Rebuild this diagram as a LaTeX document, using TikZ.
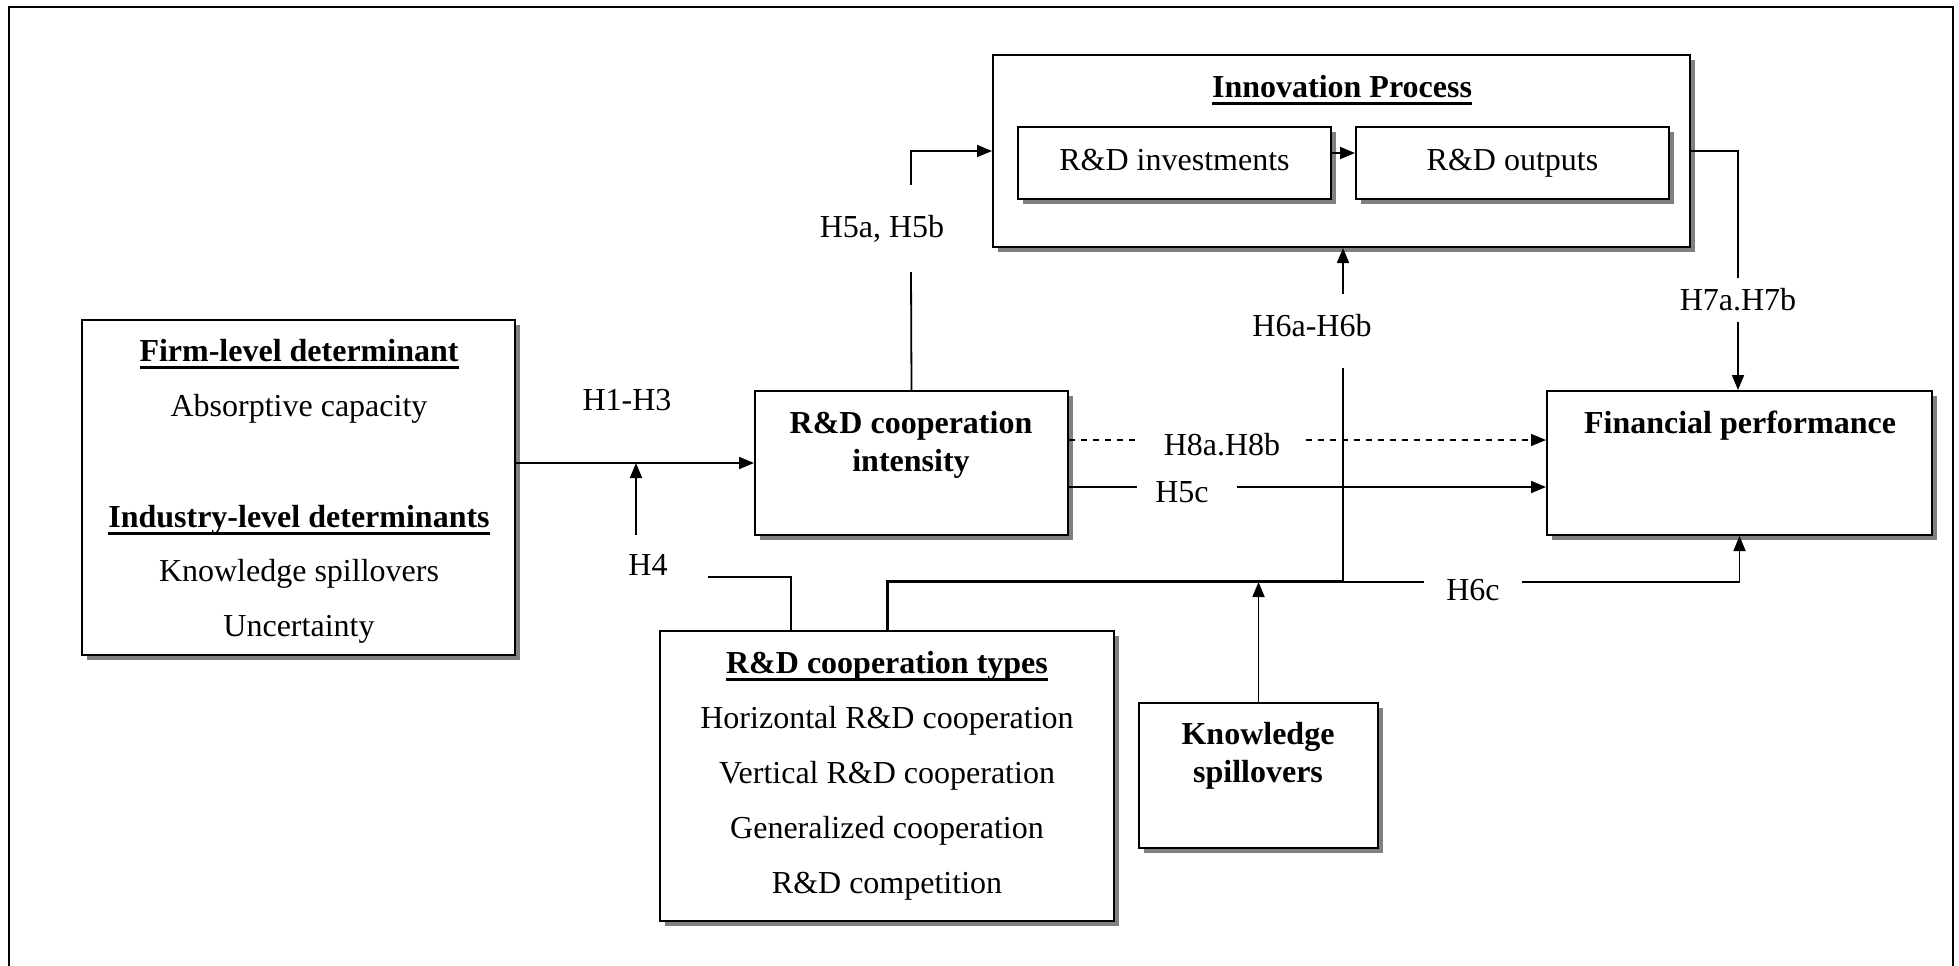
\documentclass[tikz,border=0pt]{standalone}
\usepackage{fontspec}
\setmainfont{Liberation Serif}
\usetikzlibrary{arrows.meta,shadows,positioning}

\newcommand\souligne[1]{\setbox0\hbox{#1}\rlap{\raisebox{-3.6pt}{\rule{\wd0}{1.3pt}}}\box0}

\begin{document}
\begin{tikzpicture}[x = 0.5pt, y = -0.5pt,
                    font = \fontsize{16}{19}\selectfont]
     \tikzset{BoxStyle/.style   = {draw,
                                   line width = 1pt,
                                   fill       = white,
                                   inner sep  = 0pt,
                                   drop shadow = {shadow xshift = 2.6pt,
                                                  shadow yshift = -2.6pt,
                                                  fill = gray, opacity = 1}},
              HeadStyle/.style  = {font = \fontsize{16}{19}\selectfont\bfseries,
                                   align = center, inner sep = 1pt,
                                   yshift = -2pt},
              TextStyle/.style  = {inner sep = 1pt, yshift = -2pt},
              LabelStyle/.style = {inner sep = 1pt},
              EdgeStyle/.style  = {line width = 0.9pt},
              ArrowStyle/.style = {EdgeStyle,
                                   -{Triangle[length = 7.5pt, width = 6pt]}}}
     \useasboundingbox (0,0) rectangle (1959,965);
     \draw[line width = 1.3pt] (9,1000) -- (9,7) -- (1953,7) -- (1953,1000);
     % les boites
     \node[BoxStyle, minimum width = 348.5pt, minimum height = 96pt]
          (innov) at (1341.5,151) {};
     \node[BoxStyle, minimum width = 156.5pt, minimum height = 36pt,
           text height = 11pt, text depth = 3.5pt]
          (inv) at (1174.5,163) {R\&D investments};
     \node[BoxStyle, minimum width = 156.5pt, minimum height = 36pt,
           text height = 11pt, text depth = 3.5pt,
           right = 11.5pt of inv] (out) {R\&D outputs};
     \node[BoxStyle, minimum width = 216.5pt, minimum height = 167.5pt]
          (firm) at (298.5,487.5) {};
     \node[BoxStyle, minimum width = 156.5pt, minimum height = 72pt]
          (int) at (911.5,463) {};
     \node[BoxStyle, minimum width = 192.5pt, minimum height = 72pt]
          (fin) at (1739.5,463) {};
     \node[BoxStyle, minimum width = 227pt, minimum height = 145pt]
          (types) at (887,776) {};
     \node[BoxStyle, minimum width = 119.5pt, minimum height = 72.5pt]
          (ks) at (1258.5,775.5) {};
     % les textes
     \node[HeadStyle] (innovT) at (1342,86)  {\souligne{Innovation Process}};
     \node[HeadStyle] (firmT)  at (299,350)  {\souligne{Firm-level determinant}};
     \node[TextStyle] (firmA)  at (299,405)  {Absorptive capacity};
     \node[HeadStyle] (firmI)  at (299,516)  {\souligne{Industry-level determinants}};
     \node[TextStyle] (firmK)  at (299,570)  {Knowledge spillovers};
     \node[TextStyle] (firmU)  at (299,625)  {Uncertainty};
     \node[HeadStyle] (intT)   at (911,441)  {R\&D cooperation\\intensity};
     \node[HeadStyle] (finT)   at (1740,422) {Financial performance};
     \node[HeadStyle] (typesT) at (887,662)  {\souligne{R\&D cooperation types}};
     \node[TextStyle] (typesH) at (887,717)  {Horizontal R\&D cooperation};
     \node[TextStyle] (typesV) at (887,772)  {Vertical R\&D cooperation};
     \node[TextStyle] (typesG) at (887,827)  {Generalized cooperation};
     \node[TextStyle] (typesC) at (887,882)  {R\&D competition};
     \node[HeadStyle] (ksT)    at (1258,752) {Knowledge\\spillovers};
     % les hypotheses
     \node[LabelStyle] (lH13)  at (627,400)  {H1-H3};
     \node[LabelStyle] (lH4)   at (648,565)  {H4};
     \node[LabelStyle] (lH5ab) at (882,229)  {H5a, H5b};
     \node[LabelStyle] (lH7)   at (1738,300) {H7a.H7b};
     \node[LabelStyle] (lH6ab) at (1312,326) {H6a-H6b};
     \node[LabelStyle] (lH8)   at (1222,445) {H8a.H8b};
     \node[LabelStyle] (lH5c)  at (1182,492) {H5c};
     \node[LabelStyle] (lH6c)  at (1473,590) {H6c};
     \coordinate (h4top) at (636,463);
     \coordinate (h4bot) at (636,535);
     \coordinate (h4s)   at (708,577);
     \coordinate (h4d)   at (791,631);
     \coordinate (h5lo)  at (911,272);
     \coordinate (h5hi)  at (911,185);
     \coordinate (h7a)   at (1738,278);
     \coordinate (h7b)   at (1738,322);
     \coordinate (h6up)  at (1343,294);
     \coordinate (h6lo)  at (1343,368);
     \coordinate (h6j)   at (1343,581);
     \coordinate (h6ca)  at (1424,582);
     \coordinate (h6cb)  at (1522,582);
     \coordinate (h8a)   at (1137,440);
     \coordinate (h8b)   at (1306,440);
     \coordinate (h5ca)  at (1137,487);
     \coordinate (h5cb)  at (1237,487);
     % les fleches
     \draw[ArrowStyle] (firm.east |- int.west) -- (int.west);
     \draw[ArrowStyle] (h4bot) -- (h4top);
     \draw[EdgeStyle]  (h4s) -| (h4d);
     \draw[EdgeStyle]  (int.north) -- (h5lo);
     \draw[ArrowStyle] (h5hi) |- (innov.west);
     \draw[ArrowStyle] ([yshift = 5pt]inv.east) -- ([yshift = 5pt]out.west);
     \draw[EdgeStyle]  (innov.east) -| (h7a);
     \draw[ArrowStyle] (h7b) -- (h7b |- fin.north);
     \draw[ArrowStyle] (h6up) -- (h6up |- innov.south);
     \draw[EdgeStyle]  (h6j) -- (h6lo);
     \draw[EdgeStyle, line width = 1.5pt] (types.north) |- (h6j);
     \draw[EdgeStyle]  (h6j |- h6ca) -- (h6ca);
     \draw[ArrowStyle] (h6cb) -| (fin.south);
     \draw[ArrowStyle] (ks.north) -- (ks.north |- h6ca);
     \draw[EdgeStyle, dashed]  (int.east |- h8a) -- (h8a);
     \draw[ArrowStyle, dashed] (h8b) -- (fin.west |- h8b);
     \draw[EdgeStyle]  (int.east |- h5ca) -- (h5ca);
     \draw[ArrowStyle] (h5cb) -- (fin.west |- h5cb);
  \end{tikzpicture}
\end{document}
